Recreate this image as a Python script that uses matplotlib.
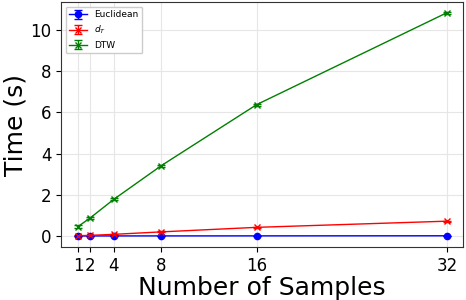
import numpy as np
import matplotlib.pyplot as plt

samples = [1, 2, 4, 8, 16, 32]
euclidean = [0.002, 0.002, 0.003, 0.004, 0.006, 0.01]
d_t = [0.01, 0.03, 0.08, 0.2, 0.42, 0.72]
dtw = [0.46, 0.87, 1.78, 3.42, 6.38, 10.85]
err_e = [0.005] * 6
err_t = [0.02] * 6
err_d = [0.05] * 6

fig, ax = plt.subplots(figsize=(4.66, 3.0), dpi=100)
ax.errorbar(samples, euclidean, yerr=err_e, color="blue", marker="o", markersize=4.5, capsize=3, lw=1.0, label="Euclidean")
ax.errorbar(samples, d_t, yerr=err_t, color="red", marker="x", markersize=5, capsize=3, lw=1.0, label=r"$d_T$")
ax.errorbar(samples, dtw, yerr=err_d, color="green", marker="x", markersize=5, capsize=3, lw=1.0, label="DTW")

ax.set_xticks(samples)
ax.set_xticklabels([str(s) for s in samples])
ax.set_xlim(-0.43, 33.35)
ax.set_ylim(-0.53, 11.36)
ax.tick_params(labelsize=12)
ax.set_xlabel("Number of Samples", fontsize=18, labelpad=1)
ax.set_ylabel("Time (s)", fontsize=18, labelpad=2)
ax.grid(True, color="#e6e6e6", lw=0.8)
for s in ax.spines.values():
    s.set_color("#333333")
ax.legend(loc="upper left", fontsize=6.5, framealpha=1)

fig.subplots_adjust(left=0.131, right=0.994, top=0.993, bottom=0.177)
fig.savefig("out.png")
